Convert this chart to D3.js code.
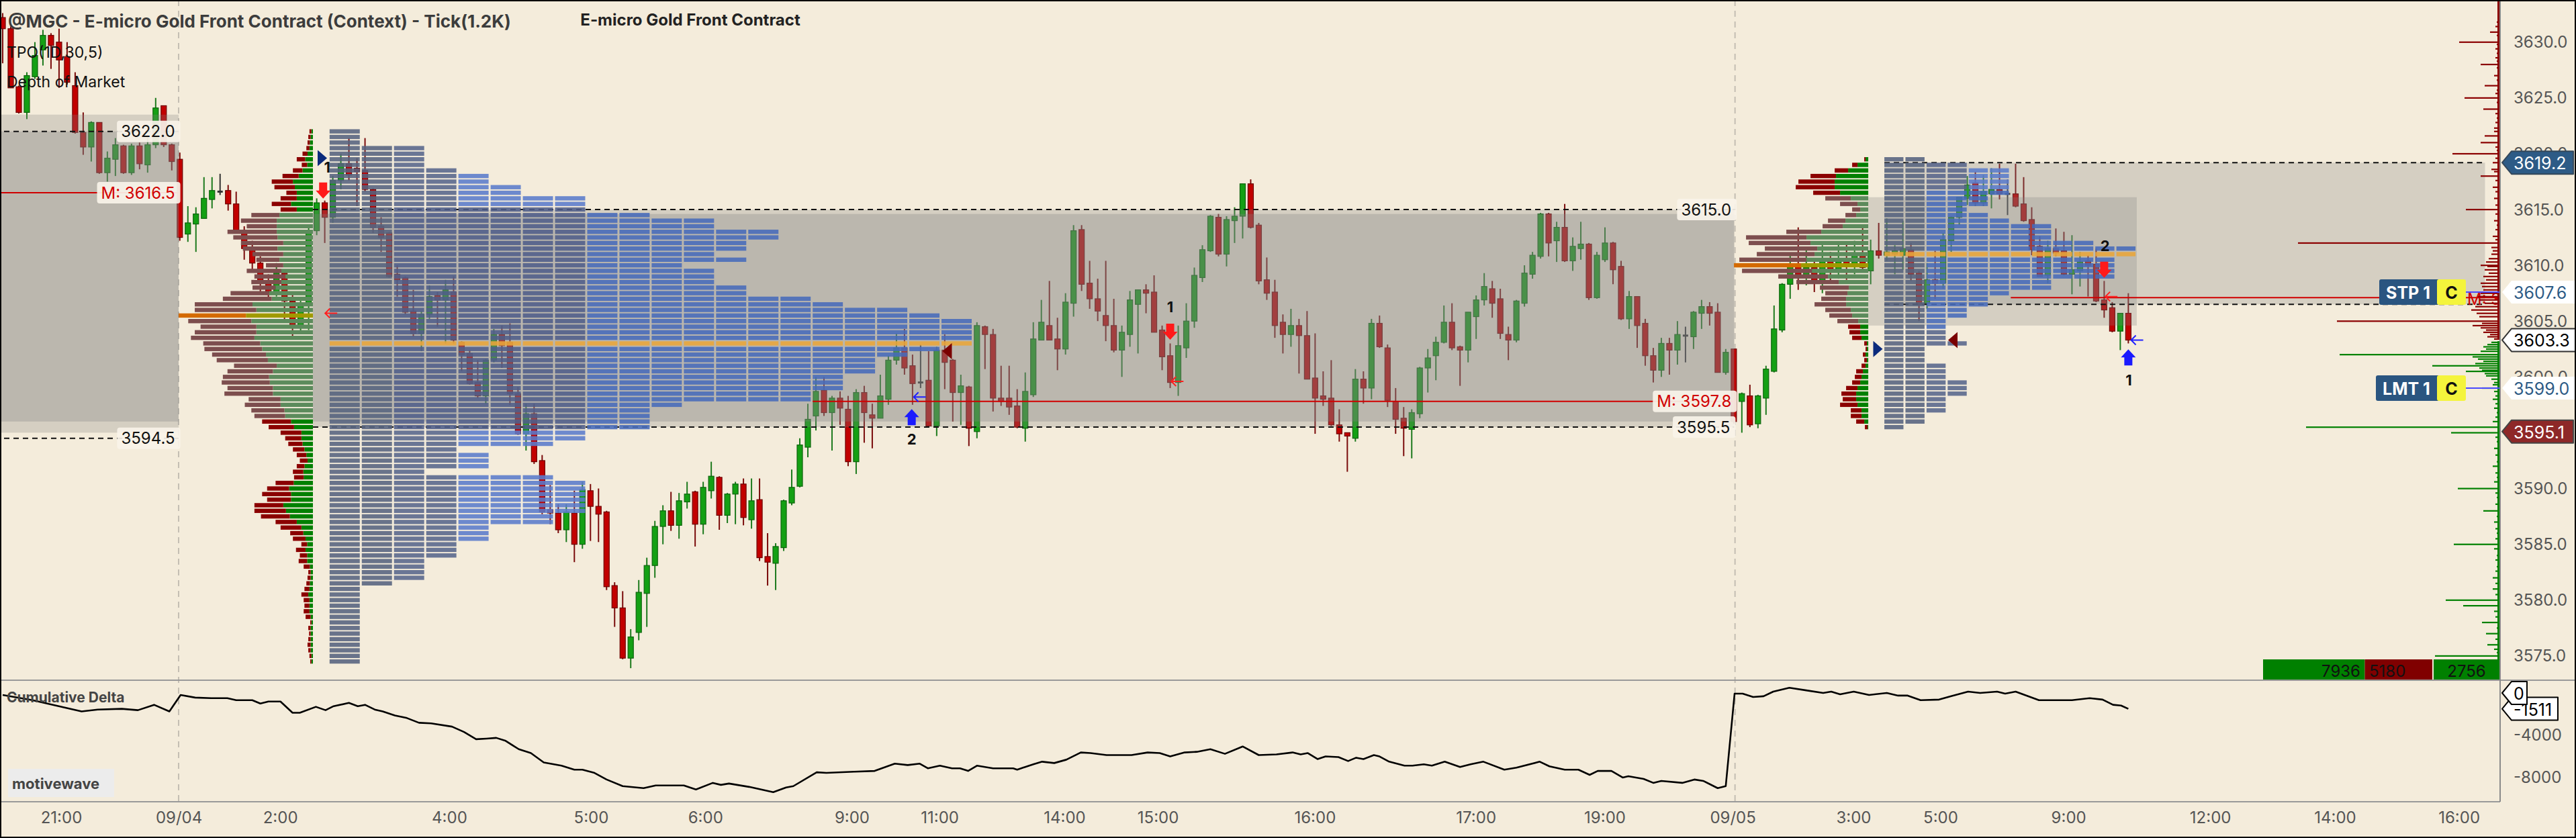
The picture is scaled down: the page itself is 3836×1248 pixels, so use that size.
<!DOCTYPE html>
<html>
<head>
<meta charset="utf-8">
<script src="https://cdn.jsdelivr.net/npm/d3@7"></script>
<style>
html, body { margin: 0; padding: 0; background: #f4ecdb; }
svg { display: block; font-family: Inter, "Noto Sans", sans-serif; }
</style>
</head>
<body>
<div id="chart"></div>
<script>
// ---- data (tick bars, 1.2K) ----
// [open, high, low, close]
const candles = [
 [3632.2,3632.6,3628.1,3631.2],[3631.2,3631.4,3625.9,3625.9],[3626.0,3626.1,3623.6,3623.7],[3623.7,3627.3,3623.1,3627.0],
 [3626.9,3630.0,3626.7,3628.8],[3629.3,3631.1,3627.9,3630.6],[3630.6,3630.8,3627.6,3629.7],[3630.0,3631.2,3625.9,3628.4],
 [3628.7,3630.0,3626.2,3626.4],[3626.1,3627.3,3621.8,3621.9],[3621.9,3623.7,3619.9,3620.6],[3620.6,3622.9,3619.3,3622.8],
 [3622.8,3622.8,3618.2,3618.3],[3618.3,3620.2,3617.5,3619.6],[3619.5,3621.4,3618.0,3620.8],[3620.7,3620.8,3618.2,3618.3],
 [3618.3,3620.9,3618.1,3620.7],[3620.7,3621.0,3618.6,3619.1],[3619.0,3621.7,3618.3,3620.8],[3620.8,3625.0,3620.5,3624.1],
 [3624.3,3624.3,3620.6,3620.8],[3620.8,3620.9,3618.5,3619.3],[3619.5,3620.1,3612.2,3612.5],[3612.8,3615.3,3612.1,3613.8],
 [3613.7,3615.2,3611.2,3614.6],[3614.2,3617.9,3614.2,3616.0],[3615.9,3617.9,3615.1,3616.7],[3616.6,3618.2,3616.3,3616.6],
 [3616.7,3617.2,3614.9,3615.5],[3615.5,3616.6,3613.0,3613.1],[3613.1,3613.5,3610.5,3611.5],[3611.5,3612.2,3609.5,3610.2],
 [3610.2,3610.8,3607.6,3608.5],[3608.5,3609.2,3607.0,3607.6],[3607.6,3610.2,3607.2,3609.3],[3609.3,3609.6,3605.0,3606.8],
 [3606.8,3607.5,3603.5,3604.6],[3604.6,3607.0,3603.9,3606.5],[3606.5,3613.4,3604.2,3613.1],[3613.1,3616.0,3612.7,3615.6],
 [3615.6,3615.8,3612.0,3614.3],[3614.3,3618.0,3613.8,3617.6],[3617.6,3620.0,3616.8,3619.1],[3619.1,3621.4,3617.6,3618.1],
 [3618.7,3619.6,3615.3,3618.4],[3618.5,3621.4,3616.6,3616.8],[3616.8,3616.9,3612.9,3613.4],[3613.5,3614.3,3611.2,3612.5],
 [3612.9,3613.0,3608.9,3609.0],[3609.2,3610.0,3607.2,3608.7],[3608.9,3609.0,3605.6,3605.8],[3605.9,3607.8,3603.6,3603.9],
 [3603.9,3605.9,3602.3,3605.6],[3605.6,3608.2,3605.2,3607.2],[3607.3,3607.6,3604.5,3606.9],[3606.9,3608.7,3603.0,3607.8],
 [3607.6,3609.0,3603.0,3603.3],[3603.1,3603.2,3600.5,3602.0],[3602.1,3602.4,3599.3,3599.4],[3599.5,3601.5,3598.1,3598.3],
 [3598.3,3601.6,3597.6,3601.5],[3601.5,3604.3,3601.3,3603.8],[3603.8,3604.6,3600.8,3602.8],[3603.1,3604.8,3597.5,3598.5],
 [3598.5,3599.1,3594.8,3594.9],[3594.9,3597.6,3593.4,3596.7],[3596.7,3597.6,3592.2,3592.4],[3592.5,3593.0,3587.7,3587.9],
 [3588.1,3590.3,3586.8,3587.8],[3587.8,3588.6,3586.0,3586.3],[3586.3,3588.6,3585.2,3587.9],[3587.8,3589.8,3583.4,3585.0],
 [3585.0,3590.6,3584.6,3589.9],[3589.8,3590.4,3585.3,3588.4],[3588.4,3590.0,3585.2,3587.7],[3587.9,3588.0,3580.9,3581.2],
 [3581.3,3581.6,3577.6,3579.3],[3579.3,3580.8,3574.7,3574.8],[3574.8,3577.4,3573.9,3576.7],[3577.1,3581.8,3576.4,3580.7],
 [3580.6,3583.8,3577.6,3583.1],[3583.1,3587.1,3582.0,3586.6],[3586.6,3588.5,3585.0,3588.0],[3588.0,3589.7,3586.2,3586.7],
 [3586.7,3589.6,3585.5,3588.9],[3588.8,3590.6,3588.2,3589.5],[3589.7,3589.8,3584.8,3586.8],[3586.8,3590.6,3585.9,3590.1],
 [3589.8,3592.4,3589.1,3591.1],[3591.0,3591.1,3586.3,3587.6],[3587.6,3589.6,3586.9,3589.5],[3589.5,3590.6,3586.8,3590.4],
 [3590.4,3590.9,3586.7,3587.4],[3587.2,3590.9,3586.4,3588.9],[3589.0,3590.9,3583.5,3583.8],[3583.9,3586.0,3581.3,3583.4],
 [3583.3,3585.1,3580.9,3584.8],[3584.7,3589.0,3584.4,3588.9],[3588.7,3591.7,3588.5,3590.1],[3590.2,3594.5,3590.1,3593.9],
 [3593.7,3597.6,3592.8,3596.2],[3596.5,3600.0,3595.2,3598.7],[3598.8,3600.0,3596.5,3596.8],[3596.8,3598.3,3593.4,3598.1],
 [3598.1,3598.7,3595.7,3597.2],[3597.1,3598.3,3592.0,3592.4],[3592.4,3598.9,3591.3,3598.6],[3598.6,3599.2,3594.1,3596.8],
 [3596.6,3597.6,3593.6,3596.3],[3596.3,3600.2,3596.3,3598.3],[3598.0,3601.9,3597.5,3601.5],[3601.5,3603.9,3601.1,3602.6],
 [3602.6,3604.3,3600.2,3600.8],[3601.0,3602.0,3597.5,3599.4],[3599.5,3602.9,3599.0,3599.5],[3599.7,3602.3,3595.5,3595.6],
 [3595.6,3602.7,3594.7,3602.4],[3602.4,3603.8,3598.9,3601.3],[3601.5,3601.6,3596.0,3598.6],[3598.6,3600.2,3595.7,3599.2],
 [3599.1,3599.2,3593.8,3595.4],[3595.1,3604.9,3594.5,3604.6],[3604.5,3604.6,3600.7,3603.8],[3603.8,3604.3,3596.9,3598.1],
 [3598.1,3601.0,3597.4,3597.8],[3598.1,3601.0,3596.6,3597.3],[3597.4,3598.9,3595.4,3595.5],[3595.4,3600.4,3594.2,3598.7],
 [3598.4,3604.9,3598.2,3603.4],[3603.3,3606.9,3603.3,3604.9],[3604.6,3608.6,3603.3,3603.3],[3603.4,3605.3,3600.6,3602.5],
 [3602.5,3607.5,3602.0,3606.7],[3606.6,3613.6,3605.4,3613.1],[3613.2,3613.6,3607.7,3608.3],[3608.4,3610.4,3606.1,3607.0],
 [3607.0,3608.8,3605.0,3605.9],[3605.5,3610.4,3603.2,3604.6],[3604.6,3607.0,3602.2,3602.4],[3602.4,3604.6,3600.0,3604.0],
 [3603.8,3607.7,3602.7,3606.9],[3606.5,3607.8,3602.1,3607.8],[3607.8,3608.3,3605.7,3607.5],[3607.6,3609.1,3604.0,3604.0],
 [3604.2,3604.6,3600.6,3601.8],[3601.9,3603.0,3599.0,3599.5],[3599.5,3604.6,3598.3,3602.8],[3602.6,3606.6,3601.7,3605.0],
 [3605.0,3609.8,3604.4,3609.1],[3608.9,3611.8,3608.5,3611.4],[3611.3,3614.5,3611.2,3614.4],[3614.3,3614.6,3610.8,3611.0],
 [3611.0,3614.4,3609.9,3614.1],[3614.0,3615.2,3612.0,3614.4],[3614.4,3617.3,3612.4,3617.3],[3617.3,3617.7,3613.3,3613.4],
 [3613.6,3613.8,3608.3,3608.6],[3608.7,3610.7,3606.9,3607.5],[3607.6,3608.7,3603.5,3604.6],[3604.9,3605.6,3602.1,3603.8],
 [3603.8,3606.1,3602.7,3604.6],[3604.6,3605.2,3600.3,3603.7],[3603.7,3605.9,3599.8,3599.8],[3599.9,3603.9,3594.9,3598.1],
 [3598.3,3600.5,3597.4,3598.0],[3598.1,3601.5,3595.6,3595.7],[3595.7,3597.1,3594.2,3594.9],[3595.0,3595.0,3591.5,3594.7],
 [3594.5,3600.7,3594.2,3599.8],[3599.8,3600.5,3597.6,3599.0],[3599.0,3605.2,3598.0,3604.8],[3604.8,3605.5,3602.6,3602.7],
 [3602.6,3602.9,3597.3,3597.9],[3597.8,3599.0,3594.9,3596.2],[3596.3,3597.3,3592.9,3595.4],[3595.3,3597.1,3592.7,3596.8],
 [3596.7,3600.9,3596.3,3600.8],[3600.8,3602.5,3598.6,3601.7],[3601.9,3603.6,3599.7,3603.1],[3603.1,3606.4,3603.0,3604.9],
 [3604.9,3606.6,3602.4,3602.6],[3602.7,3602.8,3599.2,3602.4],[3602.4,3605.8,3601.3,3605.8],[3605.4,3607.3,3603.4,3606.9],
 [3606.9,3609.3,3606.4,3608.1],[3607.9,3608.6,3605.3,3606.6],[3607.0,3607.9,3603.4,3603.9],[3603.8,3604.5,3601.5,3603.3],
 [3603.3,3606.9,3603.1,3606.8],[3606.6,3610.0,3606.3,3609.3],[3609.2,3611.2,3608.8,3610.9],[3610.8,3614.7,3610.6,3614.6],
 [3614.6,3614.7,3610.8,3612.0],[3612.2,3613.9,3610.3,3613.4],[3613.4,3615.5,3610.3,3610.4],[3610.4,3612.5,3609.5,3611.7],
 [3611.5,3613.9,3610.5,3611.9],[3611.9,3612.0,3606.9,3607.1],[3607.1,3611.2,3607.0,3610.9],[3610.5,3613.4,3610.3,3612.0],
 [3612.0,3612.1,3608.3,3609.6],[3609.9,3610.4,3605.1,3605.2],[3605.2,3607.7,3604.3,3607.2],[3607.2,3607.2,3602.6,3604.6],
 [3604.8,3605.2,3601.0,3601.9],[3601.9,3602.6,3599.5,3600.6],[3600.6,3603.5,3600.0,3603.0],[3603.0,3603.5,3600.2,3602.4],
 [3602.4,3605.0,3601.1,3603.8],[3603.7,3604.5,3601.3,3603.7],[3603.6,3605.9,3602.5,3605.8],[3605.7,3606.9,3604.3,3606.3],
 [3606.3,3606.7,3604.6,3605.7],[3605.8,3606.6,3600.4,3600.4],[3600.4,3602.5,3600.2,3602.2],[3602.5,3602.5,3595.8,3596.0],
 [3597.8,3598.6,3595.0,3598.5],[3598.3,3599.3,3595.5,3595.7],[3595.8,3598.4,3595.4,3598.3],[3598.1,3601.0,3596.6,3600.7],
 [3600.5,3606.4,3600.4,3604.3],[3604.2,3608.4,3604.0,3608.3],[3608.3,3611.0,3607.0,3610.1],[3610.1,3613.4,3607.8,3609.0],
 [3609.0,3611.5,3608.2,3609.8],[3609.8,3610.6,3607.6,3608.6],[3608.6,3611.8,3607.5,3610.4],[3610.4,3611.2,3608.6,3609.4],
 [3609.4,3612.0,3608.8,3610.6],[3610.6,3611.9,3608.7,3609.9],[3609.9,3612.2,3609.2,3611.0],[3611.0,3613.4,3609.4,3609.8],
 [3609.5,3612.3,3608.3,3611.3],[3611.3,3613.8,3610.6,3610.9],[3610.9,3614.2,3610.4,3611.2],[3611.0,3611.8,3609.2,3611.3],
 [3610.9,3614.0,3609.6,3611.5],[3611.4,3612.0,3608.6,3609.2],[3609.3,3609.5,3605.0,3606.5],[3606.6,3610.2,3606.1,3608.7],
 [3608.7,3611.3,3607.0,3608.4],[3608.4,3612.9,3607.9,3612.3],[3612.2,3614.4,3611.2,3614.3],[3614.3,3616.1,3613.6,3616.1],
 [3616.0,3618.0,3615.4,3617.2],[3617.4,3618.4,3615.3,3615.6],[3615.6,3618.1,3615.3,3616.6],[3616.4,3618.7,3615.1,3616.8],
 [3616.8,3619.1,3615.9,3616.4],[3616.4,3617.7,3614.5,3616.4],[3616.4,3619.1,3615.2,3615.3],[3615.5,3617.9,3613.9,3614.0],
 [3614.1,3615.2,3610.9,3611.4],[3611.7,3612.6,3609.0,3609.0],[3609.1,3612.2,3608.4,3611.5],[3611.5,3613.3,3610.8,3611.1],
 [3611.3,3613.0,3609.1,3609.2],[3609.2,3612.7,3607.4,3609.6],[3609.5,3611.2,3608.1,3610.3],[3610.4,3610.9,3607.2,3610.0],
 [3610.1,3611.5,3606.7,3606.8],[3606.9,3608.6,3605.3,3606.0],[3606.2,3606.7,3604.0,3604.1],[3604.1,3605.7,3602.4,3605.7],
 [3605.7,3607.5,3603.0,3603.3]
];

// time axis: bar index where each label sits
const timeTickIdx = [7.3, 21.9, 34.5, 55.5, 73.1, 87.3, 105.5, 116.4, 131.9, 143.5, 163, 183, 199, 214.9, 229.9, 240.7, 256.6, 274.2, 289.7, 305.1];
const timeTickLabels = ["21:00","09/04","2:00","4:00","5:00","6:00","9:00","11:00","14:00","15:00","16:00","17:00","19:00","09/05","3:00","5:00","9:00","12:00","14:00","16:00"];
const sessionBreaks = [21.85, 215.15];
const priceTicks = [3630, 3625, 3620, 3615, 3610, 3605, 3600, 3595, 3590, 3585, 3580, 3575];
const deltaTicks = [-4000, -8000];

// cumulative delta, [bar index, value]
const deltaPts = [
 [0,-190],[3.7,-690],[9.8,-1760],[11.8,-1580],[14.8,-1510],[16.8,-1640],[18.8,-1130],[20.7,-1760],[22.1,-190],[23.9,-440],
 [25.9,-500],[27.9,-500],[29,-690],[31,-690],[32,-1010],[33,-820],[34.5,-820],[36,-1890],[36.9,-1890],[38.9,-1320],
 [40.1,-1640],[41.1,-1260],[43,-950],[44.1,-1260],[45,-1130],[46.2,-1580],[47.2,-1760],[48.7,-2140],[50.2,-2390],[51.7,-2840],
 [53.2,-2900],[55.8,-3210],[57.3,-3720],[58.8,-4410],[60.1,-4350],[61.3,-4280],[62.4,-4540],[64.1,-5360],[65.6,-5730],[67.2,-6620],
 [69.4,-6930],[71,-7310],[72,-7310],[73.5,-7620],[75,-8250],[77,-8880],[79.6,-9070],[81.1,-8820],[84.6,-8820],[86.1,-9200],
 [88.2,-8570],[89.2,-8760],[90.2,-8630],[92.7,-8950],[94.2,-9200],[95.7,-9450],[97.3,-9010],[98.2,-8880],[101.1,-7560],[102.3,-7620],
 [105.8,-7500],[108.3,-7430],[110.8,-6740],[112.4,-6870],[113.9,-6740],[114.9,-7180],[116.4,-6930],[117.9,-7180],[118.9,-7180],[119.9,-7430],
 [121,-6930],[123,-7180],[125.5,-7180],[126,-7310],[128,-6800],[129.1,-6550],[130.6,-6680],[132.1,-6360],[133.9,-5670],[135.1,-5730],
 [137.1,-5920],[140.2,-5920],[142.2,-5670],[143.7,-5730],[145,-6050],[146.8,-5670],[148.3,-5610],[150,-5360],[151.8,-5800],[154,-5100],
 [156,-5920],[158.2,-5860],[160.2,-5670],[161.2,-5860],[162.1,-5730],[163.3,-6300],[164.3,-6050],[165.9,-6110],[167.1,-6490],[168.1,-6170],
 [169,-6300],[170.3,-5920],[171,-6050],[172.2,-6550],[174.1,-6930],[175.1,-6930],[176.5,-6800],[177.5,-6930],[179.1,-6550],[181,-7060],
 [182.3,-6800],[183.9,-6550],[186.5,-7310],[188,-7120],[190.9,-6550],[192.1,-6990],[194,-7310],[195.7,-7310],[197.1,-7810],[198.1,-7430],
 [199.8,-7430],[201.2,-8060],[201.9,-7940],[203.8,-8190],[205,-8570],[206,-8380],[208.6,-8570],[210.1,-8250],[211.2,-8380],[213,-9070],
 [214,-8880],[215.1,-60],[216.1,-60],[217.4,-380],[218.7,-310],[219.9,130],[221.9,500],[224,250],[226.1,0],[227.1,130],
 [228.2,-130],[229.9,130],[231.8,-190],[234,0],[235.4,-250],[236.6,-250],[238.2,-690],[240.5,-630],[242,-310],[244.1,130],
 [245.6,0],[247.7,130],[248.7,-60],[250,130],[252.9,-690],[257,-690],[259.2,-500],[260.8,-630],[262.1,-1130],[263.1,-1200],[264,-1511]
];

// volume profile 09/04 (rows from 3622.0 down by 0.5), [sell, buy]
const vp1Top = 3622.0;
const vp1 = [
 [5,4],[6,6],[6,8],[8,9],[13,14],[22,20],[14,15],[25,27],[42,37],[55,52],[53,47],[27,42],[42,42],[50,57],[42,42],
 [73,87],[93,94],[78,94],[128,94],[115,92],[110,77],[90,92],[80,77],[60,87],[45,77],[90,82],[80,72],[78,82],[60,97],
 [100,114],[127,107],[150,157],[160,147],[175,174],[164,160],[145,147],[160,147],[165,152],[148,137],[150,132],[140,122],
 [133,117],[111,94],[118,104],[120,114],[125,112],[118,104],[126,104],[83,84],[93,84],[86,74],[80,72],[75,57],[66,49],
 [54,30],[42,30],[37,27],[30,22],[25,17],[20,14],[20,22],[27,25],[25,24],[47,50],[57,62],[75,57],[62,57],[75,77],[82,70],
 [75,60],[55,42],[54,30],[34,25],[33,19],[15,15],[25,19],[19,15],[22,15],[16,8],[6,6],[8,6],[9,8],[13,9],[18,12],[15,9],
 [13,9],[15,9],[13,6],[3,4],[6,6],[4,6],[6,6],[8,6],[6,6],[5,4],[3,4]
];
const vp1Poc = 3605.5, vp1VA = [3596.5, 3614.5];

// volume profile 09/05 (rows from 3619.5 down by 0.5), [sell, buy]
const vp2Top = 3619.5;
const vp2 = [
 [2,4],[8,16],[20,30],[38,48],[54,50],[58,50],[40,42],[38,26],[26,16],[12,12],[16,18],[26,34],[30,38],[52,70],[90,92],
 [92,86],[78,76],[86,80],[100,92],[100,100],[104,84],[74,60],[63,44],[43,29],[33,31],[37,33],[47,33],[38,26],[34,24],
 [31,15],[18,12],[16,12],[14,10],[4,2],[2,2],[4,4],[4,2],[6,4],[10,8],[10,10],[12,12],[17,16],[22,18],[20,18],[26,16],
 [16,10],[16,10],[12,6],[4,1]
];
const vp2Poc = 3610.0, vp2VA = [3605.0, 3616.0];

// TPO counts per 0.5 row
const tpo1Top = 3622.0;
const tpo1 = [1,1,1,3,3,3,3,4,5,5,6,6,8,8,8,10,12,12,14,14,13,13,12,13,11,12,12,12,13,13,15,16,18,19,20,20,20,20,20,19,
 18,17,17,17,16,16,16,15,15,11,10,10,10,10,8,8,7,4,5,5,5,3,7,8,8,8,8,8,8,7,7,5,5,5,4,4,4,3,3,3,3,2,1,1,1,1,1,1,1,1,1,1,1,1,1,1];
const tpo1Poc = 3603.0, tpo1VA = [3595.5, 3615.0];
const tpo2Top = 3619.5;
const tpo2 = [2,4,6,6,6,6,6,5,5,4,5,6,8,8,8,10,12,12,11,11,11,11,8,8,6,5,5,4,4,3,3,3,3,4,2,2,2,3,3,3,4,4,4,3,3,3,2,2,1];
const tpo2Poc = 3611.0, tpo2VA = [3604.5, 3616.5];

// value area boxes: bar range and price range
const vaBoxes = [
 { from: -1, to: 21.85, hi: 3623.5, lo: 3595.0, a: 0.27 },
 { from: -1, to: 21.85, hi: 3622.0, lo: 3596.0, a: 0.30 },
 { from: 38.53, to: 215.05, hi: 3615.0, lo: 3595.5, a: 0.27 },
 { from: 38.53, to: 215.05, hi: 3614.6, lo: 3596.0, a: 0.30 },
 { from: 233.7, to: 308.3, hi: 3619.2, lo: 3606.5, a: 0.27 },
 { from: 231.7, to: 265.05, hi: 3616.1, lo: 3604.6, a: 0.27 }
];
// dashed VA edges: price, from bar, to bar
const vaLines = [
 { p: 3622.0, from: -1, to: 21.9 },
 { p: 3594.5, from: -1, to: 21.9 },
 { p: 3615.0, from: 38.53, to: 215.2 },
 { p: 3595.5, from: 38.53, to: 215.05 },
 { p: 3619.2, from: 233.7, to: 308.3 },
 { p: 3606.5, from: 233.7, to: 308.3 }
];
const midLines = [
 { p: 3616.5, from: -1, to: 21.9 },
 { p: 3597.8, from: 100.6, to: 215.2 },
 { p: 3607.1, from: 249.4, to: 317 }
];

// signals
const triMarks = [
 { i: 39.7, p: 3619.6, dir: 1, c: "#0b2a7c" }, { i: 117.3, p: 3602.3, dir: -1, c: "#7a0000" },
 { i: 232.9, p: 3602.5, dir: 1, c: "#0b2a7c" }, { i: 242.2, p: 3603.3, dir: -1, c: "#7a0000" }
];
const blockArrows = [
 { i: 39.8, p: 3616.7, dir: "down" }, { i: 145.0, p: 3604.05, dir: "down" }, { i: 112.9, p: 3596.4, dir: "up" },
 { i: 261.0, p: 3609.6, dir: "down" }, { i: 264.0, p: 3601.75, dir: "up" }
];
const signalNums = [
 { i: 40.3, p: 3618.8, t: "1" }, { i: 145.0, p: 3606.3, t: "1" }, { i: 112.9, p: 3594.4, t: "2" },
 { i: 261.1, p: 3611.75, t: "2" }, { i: 264.05, p: 3599.7, t: "1" }
];
const backArrows = [
 { i: 40.8, p: 3605.7, c: "#ff2020" }, { i: 145.9, p: 3599.6, c: "#ff2020" }, { i: 113.9, p: 3598.2, c: "#2020ff" },
 { i: 261.9, p: 3607.2, c: "#ff2020" }, { i: 265.1, p: 3603.3, c: "#2020ff" }
];

// depth of market [price, size]
const domAsks = [
 [3631.8,2],[3631.4,3],[3630.9,7],[3630.6,2],[3630.0,30],[3629.8,2],[3629.4,3],[3629.0,2],[3628.6,3],[3628.3,2],[3628.0,14],
 [3627.7,2],[3627.0,4],[3626.6,2],[3626.1,11],[3625.7,2],[3625.4,3],[3625.0,26],[3624.6,2],[3624.0,12],[3623.6,3],[3623.2,2],
 [3622.8,3],[3622.3,4],[3622.0,4],[3621.6,11],[3621.0,14],[3620.6,3],[3620.3,2],[3620.0,35],[3619.6,3],[3619.2,5],[3618.6,6],
 [3618.4,4],[3618.0,14],[3617.6,3],[3617.0,5],[3616.6,3],[3616.0,4],[3615.4,3],[3615.0,25],[3614.6,3],[3614.0,4],[3613.6,2],
 [3613.2,3],[3612.6,5],[3612.3,3],[3612.0,150],[3611.6,6],[3611.3,5],[3611.0,6],[3610.6,8],[3610.3,10],[3610.0,14],[3609.9,9],
 [3609.6,11],[3609.3,8],[3609.0,12],[3608.7,10],[3608.4,14],[3608.1,13],[3607.8,12],[3607.5,14],[3607.2,16],[3606.9,15],
 [3606.6,11],[3606.3,18],[3606.0,21],[3605.7,17],[3605.4,15],[3605.0,121],[3604.8,13],[3604.6,20],[3604.4,14],[3604.2,10],
 [3604.0,12],[3603.8,7],[3603.6,9],[3603.4,4]
];
const domBids = [
 [3603.1,6],[3602.9,9],[3602.7,12],[3602.5,10],[3602.3,14],[3602.0,119],[3601.8,20],[3601.6,16],[3601.4,12],[3601.2,18],
 [3601.0,50],[3600.8,15],[3600.6,13],[3600.5,25],[3600.3,11],[3600.1,10],[3599.8,6],[3599.5,4],[3599.3,5],[3599.0,13],
 [3598.7,4],[3598.3,3],[3598.0,5],[3597.6,3],[3597.2,4],[3596.8,2],[3596.4,3],[3596.0,5],[3595.5,144],[3595.0,36],[3594.6,3],
 [3594.2,2],[3593.6,4],[3593.0,3],[3592.4,2],[3592.0,5],[3591.4,3],[3591.0,2],[3590.6,4],[3590.0,31],[3589.6,3],[3589.2,2],
 [3588.6,3],[3588.0,12],[3587.5,2],[3587.0,4],[3586.4,3],[3586.0,2],[3585.5,3],[3585.0,34],[3584.6,4],[3584.0,2],[3583.6,3],
 [3583.0,2],[3582.6,3],[3582.0,5],[3581.5,3],[3581.0,5],[3580.5,3],[3580.0,40],[3579.5,27],[3579.0,4],[3578.5,3],[3578.0,13],
 [3577.5,2],[3577.0,10],[3576.5,3],[3576.0,9],[3575.6,4],[3575.3,2],[3575.0,48]
];
const orders = [ { type: "STP", qty: 1, p: 3607.6 }, { type: "LMT", qty: 1, p: 3599.0 } ];
const lastPrice = 3603.3, lastDelta = -1511;
const domTotals = [7936, 5180, 2756];

// ---- drawing ----
const W = 3836, H = 1248;
const plotR = 3723, priceBottom = 1013, deltaBottom = 1194;
const x = d3.scaleLinear().domain([0, 310]).range([4, 3720.9]);
const y = d3.scaleLinear().domain([3630, 3575]).range([62.7, 976.8]);
const yd = d3.scaleLinear().domain([0, -8000]).range([1032, 1157]);
const rowH = 6.4;

const svg = d3.select("#chart").append("svg").attr("width", W).attr("height", H);
svg.append("rect").attr("width", W).attr("height", H).attr("fill", "#f4ecdb");

const defs = svg.append("defs");
defs.append("clipPath").attr("id", "clipPrice").append("rect").attr("x", 0).attr("y", 0).attr("width", plotR).attr("height", priceBottom);
defs.append("clipPath").attr("id", "clipDelta").append("rect").attr("x", 0).attr("y", priceBottom).attr("width", plotR).attr("height", deltaBottom - priceBottom);

// session separators
svg.append("g").selectAll("line").data(sessionBreaks).enter().append("line")
  .attr("x1", d => x(d)).attr("x2", d => x(d)).attr("y1", 0).attr("y2", deltaBottom)
  .attr("stroke", "#c4beb3").attr("stroke-width", 2).attr("stroke-dasharray", "9,7");

const pg = svg.append("g").attr("clip-path", "url(#clipPrice)");

// candles
const cg = pg.append("g");
candles.forEach((d, i) => {
  const [o, h, l, c] = d;
  const up = c > o, flat = c === o;
  const wick = flat ? "#333" : (up ? "#1d7a1d" : "#7a0b0b");
  cg.append("line").attr("x1", x(i)).attr("x2", x(i)).attr("y1", y(h)).attr("y2", y(l))
    .attr("stroke", wick).attr("stroke-width", 2);
  if (flat) {
    cg.append("rect").attr("x", x(i) - 4).attr("y", y(o) - 1.5).attr("width", 8).attr("height", 3).attr("fill", "#333");
  } else {
    const top = y(Math.max(o, c)), bot = y(Math.min(o, c));
    cg.append("rect").attr("x", x(i) - 4).attr("y", top).attr("width", 8).attr("height", Math.max(2, bot - top))
      .attr("fill", up ? "#14a014" : "#c20000").attr("stroke", up ? "#0c640c" : "#6e0000").attr("stroke-width", 1.2);
  }
});

// value area shading
pg.append("g").selectAll("rect").data(vaBoxes).enter().append("rect")
  .attr("x", d => x(d.from)).attr("width", d => x(d.to) - x(d.from))
  .attr("y", d => y(d.hi)).attr("height", d => y(d.lo) - y(d.hi))
  .attr("fill", d => `rgba(128,128,128,${d.a})`);

// volume profiles (sell left, buy right, anchored at right edge)
function volumeProfile(rows, top, anchorIdx, poc, va) {
  const g = pg.append("g");
  const w = d3.scaleLinear().domain([0, d3.max(rows, r => r[0] + r[1])]).range([0, 200]);
  const ax = x(anchorIdx);
  rows.forEach((r, k) => {
    const p = top - k * 0.5;
    const inVA = p >= va[0] && p <= va[1];
    const isPoc = p === poc;
    const wb = w(r[1]), ws = w(r[0]);
    const sellC = isPoc ? "#d46a00" : (inVA ? "#7d4e4e" : "#8b0000");
    const buyC = isPoc ? "#a09a00" : (inVA ? "#5c8b5c" : "#008000");
    g.append("rect").attr("x", ax - wb).attr("y", y(p) - rowH / 2).attr("width", wb).attr("height", rowH).attr("fill", buyC);
    g.append("rect").attr("x", ax - wb - ws).attr("y", y(p) - rowH / 2).attr("width", ws).attr("height", rowH).attr("fill", sellC);
  });
}

// TPO profiles (blocks growing right from start)
function tpoProfile(counts, top, startIdx, blockW, poc, va, slateCols) {
  const g = pg.append("g").attr("opacity", 0.88);
  const sx = x(startIdx);
  counts.forEach((n, k) => {
    const p = top - k * 0.5;
    const inVA = p >= va[0] && p <= va[1];
    for (let b = 0; b < n; b++) {
      let col;
      if (p === poc) col = "#eaa63a";
      else if (b < 2) col = "#56637f";
      else if (inVA) col = b < slateCols ? "#4f5e8a" : "#476bbb";
      else col = b >= 4 ? "#5b7ccc" : "#58668c";
      g.append("rect").attr("x", sx + b * blockW).attr("y", y(p) - rowH / 2)
        .attr("width", blockW - 3).attr("height", rowH).attr("fill", col);
    }
  });
}

// VA dashed lines (under profiles)
pg.append("g").selectAll("line").data(vaLines).enter().append("line")
  .attr("x1", d => x(d.from)).attr("x2", d => x(d.to)).attr("y1", d => y(d.p)).attr("y2", d => y(d.p))
  .attr("stroke", "#111").attr("stroke-width", 2).attr("stroke-dasharray", "8,6");

volumeProfile(vp1, vp1Top, 38.53, vp1Poc, vp1VA);
tpoProfile(tpo1, tpo1Top, 40.6, x(4) - x(0), tpo1Poc, tpo1VA, 8);
volumeProfile(vp2, vp2Top, 231.7, vp2Poc, vp2VA);
tpoProfile(tpo2, tpo2Top, 233.7, x(2.62) - x(0), tpo2Poc, tpo2VA, 2);

// midpoint lines
pg.append("g").selectAll("line").data(midLines).enter().append("line")
  .attr("x1", d => x(d.from)).attr("x2", d => x(d.to)).attr("y1", d => y(d.p)).attr("y2", d => y(d.p))
  .attr("stroke", "#d00000").attr("stroke-width", 2);

// labels (right-aligned at session end)
function tagLabel(text, xr, yc, color) {
  const g = pg.append("g");
  const t = g.append("text").attr("x", xr - 6).attr("y", yc).attr("text-anchor", "end")
    .attr("dominant-baseline", "central").attr("font-size", 24).attr("fill", color).text(text);
  const tw = t.node().getComputedTextLength();
  g.insert("rect", "text").attr("x", xr - tw - 12).attr("y", yc - 16).attr("width", tw + 14).attr("height", 32)
    .attr("rx", 4).attr("fill", "#f8f3e9").attr("opacity", 0.92);
}
tagLabel("3622.0", x(21.9), y(3622.0), "#111");
tagLabel("M: 3616.5", x(21.9), y(3616.5), "#d00000");
tagLabel("3594.5", x(21.9), y(3594.5), "#111");
tagLabel("3615.0", x(215.2), y(3615.0), "#111");
tagLabel("M: 3597.8", x(215.2), y(3597.8), "#d00000");
tagLabel("3595.5", x(215.05), y(3595.5), "#111");
pg.append("text").attr("x", 3674).attr("y", y(3607.1) + 2).attr("dominant-baseline", "central")
  .attr("font-size", 24).attr("fill", "#d00000").text("M: 3607.1");

// signals
const sg = pg.append("g");
triMarks.forEach(d => {
  const cx = x(d.i), cy = y(d.p);
  sg.append("path").attr("d", `M${cx - 7 * d.dir},${cy - 12}L${cx + 7 * d.dir},${cy}L${cx - 7 * d.dir},${cy + 12}Z`).attr("fill", d.c);
});
blockArrows.forEach(d => {
  const cx = x(d.i), cy = y(d.p);
  const col = d.dir === "down" ? "#ff1a1a" : "#1a1aff";
  const s = d.dir === "down" ? 1 : -1;
  sg.append("path").attr("d",
    `M${cx - 6},${cy - 12 * s}L${cx + 6},${cy - 12 * s}L${cx + 6},${cy}L${cx + 11},${cy}L${cx},${cy + 12 * s}L${cx - 11},${cy}L${cx - 6},${cy}Z`)
    .attr("fill", col);
});
signalNums.forEach(d => {
  sg.append("text").attr("x", x(d.i)).attr("y", y(d.p)).attr("text-anchor", "middle").attr("dominant-baseline", "central")
    .attr("font-size", 22).attr("font-weight", 700).attr("fill", "#111").text(d.t);
});
backArrows.forEach(d => {
  const cx = x(d.i), cy = y(d.p);
  sg.append("path").attr("d", `M${cx - 9},${cy}L${cx + 9},${cy}M${cx - 2},${cy - 7}L${cx - 9},${cy}L${cx - 2},${cy + 7}`)
    .attr("stroke", d.c).attr("stroke-width", 2).attr("fill", "none");
});

// depth of market bars
const dw = d3.scaleLinear().domain([0, 150]).range([0, 300]);
const dg = pg.append("g");
dg.append("rect").attr("x", plotR - 4).attr("y", 0).attr("width", 3).attr("height", y(3603.4) - 0).attr("fill", "#8b0000");
dg.append("rect").attr("x", plotR - 4).attr("y", y(3603.2)).attr("width", 3).attr("height", y(3574.6) - y(3603.2)).attr("fill", "#008000");
dg.selectAll(".ask").data(domAsks).enter().append("rect")
  .attr("x", d => plotR - 1 - dw(d[1])).attr("y", d => y(d[0]) - 1).attr("width", d => dw(d[1])).attr("height", 2.2).attr("fill", "#8b0000");
dg.selectAll(".bid").data(domBids).enter().append("rect")
  .attr("x", d => plotR - 1 - dw(d[1])).attr("y", d => y(d[0]) - 1).attr("width", d => dw(d[1])).attr("height", 2.2).attr("fill", "#008000");

// working orders
orders.forEach(o => {
  const cy = y(o.p);
  pg.append("line").attr("x1", 3672).attr("x2", plotR).attr("y1", cy).attr("y2", cy).attr("stroke", "#4a4aff").attr("stroke-width", 2);
  const bw = o.type === "STP" ? 86 : 91;
  pg.append("rect").attr("x", 3629 - bw).attr("y", cy - 19).attr("width", bw + 4).attr("height", 38).attr("rx", 3).attr("fill", "#2a5580");
  pg.append("rect").attr("x", 3629).attr("y", cy - 19).attr("width", 43).attr("height", 38).attr("rx", 3).attr("fill", "#f4f43c");
  pg.append("text").attr("x", 3629 - bw / 2).attr("y", cy + 1).attr("text-anchor", "middle").attr("dominant-baseline", "central")
    .attr("font-size", 25).attr("font-weight", 700).attr("fill", "#fff").text(`${o.type} ${o.qty}`);
  pg.append("text").attr("x", 3650.5).attr("y", cy + 1).attr("text-anchor", "middle").attr("dominant-baseline", "central")
    .attr("font-size", 25).attr("font-weight", 700).attr("fill", "#111").text("C");
});

// DOM totals strip
const totBoxes = [{ x0: 3370, x1: 3521.5, c: "#008000" }, { x0: 3521.5, x1: 3622, c: "#800000" }, { x0: 3624, x1: plotR, c: "#008000" }];
totBoxes.forEach(b => {
  svg.append("rect").attr("x", b.x0).attr("y", 982).attr("width", b.x1 - b.x0).attr("height", priceBottom - 982).attr("fill", b.c);
});
svg.append("text").attr("x", 3515).attr("y", 999).attr("text-anchor", "end").attr("dominant-baseline", "central").attr("font-size", 24).attr("fill", "#111").text(domTotals[0]);
svg.append("text").attr("x", 3528).attr("y", 999).attr("dominant-baseline", "central").attr("font-size", 24).attr("fill", "#111").text(domTotals[1]);
svg.append("text").attr("x", 3673).attr("y", 999).attr("text-anchor", "middle").attr("dominant-baseline", "central").attr("font-size", 24).attr("fill", "#111").text(domTotals[2]);

// titles
svg.append("text").attr("x", 12).attr("y", 41).attr("font-size", 26).attr("font-weight", 700).attr("fill", "#3c3c3c")
  .text("@MGC - E-micro Gold Front Contract (Context) - Tick(1.2K)");
svg.append("text").attr("x", 1028).attr("y", 38).attr("text-anchor", "middle").attr("font-size", 24).attr("font-weight", 700).attr("fill", "#222")
  .text("E-micro Gold Front Contract");
svg.append("text").attr("x", 10).attr("y", 86).attr("font-size", 23).attr("fill", "#111").text("TPO(1D,30,5)");
svg.append("text").attr("x", 10).attr("y", 130).attr("font-size", 23).attr("fill", "#111").text("Depth of Market");

// delta panel
const dgp = svg.append("g").attr("clip-path", "url(#clipDelta)");
dgp.append("path").datum(deltaPts).attr("d", d3.line().x(d => x(d[0])).y(d => yd(d[1])))
  .attr("fill", "none").attr("stroke", "#000").attr("stroke-width", 2.6).attr("stroke-linejoin", "round");
svg.append("text").attr("x", 10).attr("y", 1046).attr("font-size", 21).attr("font-weight", 700).attr("fill", "#444").text("Cumulative Delta");
svg.append("rect").attr("x", 12).attr("y", 1145).attr("width", 158).attr("height", 42).attr("fill", "#ececec");
svg.append("text").attr("x", 18).attr("y", 1167).attr("dominant-baseline", "central").attr("font-size", 22).attr("font-weight", 700).attr("fill", "#444").text("motivewave");

// frame lines
svg.append("rect").attr("x", plotR + 1).attr("y", 0).attr("width", W - plotR - 1).attr("height", priceBottom - 1).attr("fill", "#f4ecdb");
svg.append("line").attr("x1", 0).attr("x2", W).attr("y1", priceBottom).attr("y2", priceBottom).attr("stroke", "#999").attr("stroke-width", 2);
svg.append("line").attr("x1", 0).attr("x2", plotR).attr("y1", deltaBottom).attr("y2", deltaBottom).attr("stroke", "#999").attr("stroke-width", 2);
svg.append("line").attr("x1", plotR).attr("x2", plotR).attr("y1", 0).attr("y2", deltaBottom).attr("stroke", "#8a8a8a").attr("stroke-width", 2);

// axes labels
svg.append("g").selectAll("text").data(priceTicks).enter().append("text")
  .attr("x", 3743).attr("y", d => y(d)).attr("dominant-baseline", "central").attr("font-size", 24).attr("fill", "#555")
  .text(d => d.toFixed(1));
svg.append("g").selectAll("text").data(deltaTicks).enter().append("text")
  .attr("x", 3743).attr("y", d => yd(d)).attr("dominant-baseline", "central").attr("font-size", 24).attr("fill", "#555")
  .text(d => d);
svg.append("g").selectAll("text").data(timeTickIdx).enter().append("text")
  .attr("x", d => x(d)).attr("y", 1217).attr("text-anchor", "middle").attr("dominant-baseline", "central")
  .attr("font-size", 24).attr("fill", "#555").text((d, i) => timeTickLabels[i]);

// axis tags
function axisTag(yc, text, fill, color, stroke, right) {
  const x0 = 3726, tip = 14, h = 34;
  svg.append("path").attr("d", `M${x0},${yc}L${x0 + tip},${yc - h / 2}L${right},${yc - h / 2}L${right},${yc + h / 2}L${x0 + tip},${yc + h / 2}Z`)
    .attr("fill", fill).attr("stroke", stroke || "none").attr("stroke-width", 2).attr("stroke-linejoin", "round");
  svg.append("text").attr("x", 3743).attr("y", yc + 1).attr("dominant-baseline", "central").attr("font-size", 25).attr("fill", color).text(text);
}
axisTag(y(3619.2), "3619.2", "#2d5b86", "#fff", "#33475a", 3832);
axisTag(y(orders[0].p), orders[0].p.toFixed(1), "#fff", "#2d5b86", null, 3840);
axisTag(y(lastPrice), lastPrice.toFixed(1), "#fff", "#000", "#333", 3840);
axisTag(y(orders[1].p), orders[1].p.toFixed(1), "#fff", "#2d5b86", null, 3840);
axisTag(y(3595.1), "3595.1", "#8e2828", "#fff", "#444", 3832);
axisTag(yd(lastDelta), String(lastDelta), "#fff", "#000", "#000", 3809);
axisTag(yd(0), "0", "#fff", "#000", "#000", 3763);

// outer frame
svg.append("rect").attr("x", 1).attr("y", 1).attr("width", W - 2).attr("height", H - 2).attr("fill", "none").attr("stroke", "#000").attr("stroke-width", 2);
</script>
</body>
</html>
